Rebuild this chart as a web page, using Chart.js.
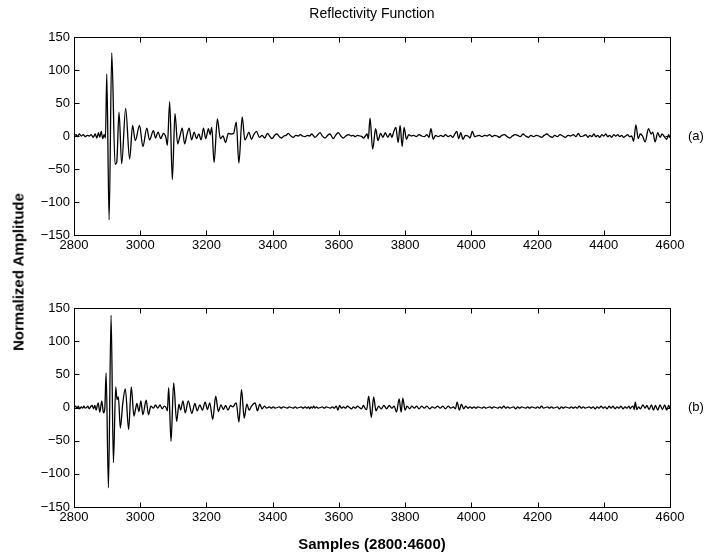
<!DOCTYPE html>
<html>
<head>
<meta charset="utf-8">
<script src="https://cdn.jsdelivr.net/npm/chart.js@4.4.0/dist/chart.umd.min.js"></script>
<style>
  html, body { margin: 0; padding: 0; background: #fff; }
  #wrap { position: relative; width: 704px; height: 558px; }
  #topChart { position: absolute; left: 0; top: 0; }
  #botChart { position: absolute; left: 0; top: 275px; }
  #ylab {
    position: absolute; left: 18px; top: 272px;
    transform: translate(-50%, -50%) rotate(-90deg);
    font: bold 15px "Liberation Sans", Arial, sans-serif;
    white-space: nowrap; color: #000;
  }
</style>
</head>
<body>
<div id="wrap">
  <canvas id="topChart" width="704" height="275"></canvas>
  <canvas id="botChart" width="704" height="283"></canvas>
  <div id="ylab">Normalized Amplitude</div>
</div>
<script>
// tick values
const xTicks = [2800, 3000, 3200, 3400, 3600, 3800, 4000, 4200, 4400, 4600];
const yTicks = [-150, -100, -50, 0, 50, 100, 150];

// (a): [sample, amplitude]
const traceA = [
  [2800,0],[2806,2],[2811,-1],[2816,3],[2822,0],[2828,2],[2834,-1],[2840,1],[2846,0],[2852,2],
  [2858,-2],[2864,3],[2869,-3],[2874,5],[2878,-2],[2882,7],[2887,-4],[2891,2],[2895,-3],
  [2899,94],[2906,-127],[2914,126],[2924,-43],[2929,-40],[2936,36],[2944,-42],[2956,42],[2968,-35],
  [2977,16],[2985,-7],[2998,16],[3008,-16],[3020,12],[3028,-6],[3040,8],[3046,-3],[3054,6],[3062,-4],
  [3070,4],[3078,-3],[3082,-14],[3089,52],[3097,-66],[3105,34],[3113,-12],[3120,0],[3127,12],[3134,-12],
  [3141,2],[3148,12],[3155,-6],[3163,6],[3170,-4],[3177,3],[3184,-6],[3191,12],[3198,-4],[3206,11],
  [3211,2],[3216,13],[3223,-40],[3233,26],[3242,-4],[3250,0],[3258,-10],[3266,4],[3274,3],[3282,4],
  [3290,21],[3298,-41],[3308,29],[3316,-6],[3322,-1],[3328,6],[3336,-5],[3343,2],
  [3351,7],[3360,-2],[3368,1],[3376,-3],[3384,4],[3392,-1],[3398,-4],[3406,1],[3413,3],[3420,-1],
  [3427,-3],[3434,0],[3441,1],[3447,4],[3455,0],[3462,-2],[3470,1],[3477,0],[3483,2],[3490,0],
  [3498,-1],[3505,1],[3511,0],[3518,3],[3528,-2],[3535,1],[3543,5],[3550,0],[3558,-3],[3566,1],
  [3573,3],[3583,-4],[3590,1],[3598,5],[3606,0],[3613,-3],[3621,0],[3629,2],[3637,0],[3643,1],
  [3649,-1],[3656,1],[3664,0],[3670,-1],[3674,-3],[3680,0],[3685,3],[3689,-4],
  [3694,27],[3702,-20],[3711,11],[3718,-7],[3726,4],[3733,-2],[3740,5],[3748,-2],[3755,4],[3760,-2],
  [3766,7],[3772,13],[3779,-10],[3785,16],[3791,-16],[3797,13],[3804,-5],[3811,2],[3818,0],[3826,1],
  [3834,-1],[3842,2],[3850,0],[3858,-1],[3866,2],[3872,-2],[3878,11],[3885,-5],[3892,1],[3900,-1],
  [3908,1],[3915,-1],[3922,2],[3930,-1],[3937,1],[3944,-2],[3950,3],[3956,7],[3962,-4],[3968,5],
  [3975,-5],[3982,1],[3990,0],[3996,-3],[4003,7],[4010,-1],[4016,0],[4024,1],[4032,-1],[4040,1],
  [4048,0],[4055,2],[4063,-1],[4070,1],[4078,0],[4085,-2],[4092,1],[4100,2],[4108,-1],[4116,-3],
  [4124,0],[4132,2],[4140,1],[4148,-1],[4156,3],[4164,0],[4172,-2],[4180,1],[4188,-1],[4196,1],
  [4204,0],[4212,-2],[4220,1],[4228,3],[4236,0],[4244,-2],[4252,1],[4260,-1],[4268,2],[4276,0],
  [4284,-2],[4292,1],[4300,0],[4308,2],[4316,-1],[4323,4],[4330,-1],[4338,0],[4346,2],[4352,-2],
  [4358,1],[4364,-1],[4370,3],[4376,-1],[4382,1],[4388,-2],[4394,2],[4400,0],[4406,3],[4412,-1],
  [4418,1],[4424,-2],[4430,2],[4436,0],[4442,2],[4448,-1],[4454,1],[4460,-2],[4466,0],[4472,2],
  [4478,-1],[4484,0],[4490,-8],[4497,17],[4504,-4],[4510,3],[4517,0],[4525,-9],[4535,11],[4543,3],
  [4548,6],[4555,-9],[4563,5],[4570,-2],[4576,3],[4583,-1],[4590,-5],[4596,2],[4600,-3]
];

// (b): [sample, amplitude]
const traceB = [
  [2800,0],[2805,2],[2809,-1],[2813,2],[2817,-2],[2822,1],[2826,-1],[2830,2],[2834,-1],[2838,0],
  [2842,2],[2846,-2],[2850,1],[2855,3],[2859,-2],[2863,3],[2867,-4],[2870,2],[2873,7],[2878,-7],
  [2884,10],[2889,-8],[2893,-2],
  [2897,52],[2904,-121],[2912,139],[2919,-83],[2926,31],[2930,12],[2934,16],[2940,-31],[2947,5],[2955,28],
  [2965,-33],[2973,31],[2981,-13],[2986,-2],[2990,6],[2996,-6],[3002,10],[3008,-11],[3018,11],[3025,-11],
  [3032,2],[3040,-1],[3046,4],[3053,-1],[3060,4],[3066,-2],[3073,2],[3078,0],[3082,-5],[3086,30],
  [3093,-51],[3101,37],[3110,-21],[3117,5],[3122,-4],[3129,10],[3136,-8],[3145,10],[3156,-9],[3165,6],
  [3172,-5],[3180,4],[3188,-4],[3196,8],[3203,-3],[3210,7],[3219,-18],[3228,17],[3236,-6],[3244,4],
  [3251,-3],[3258,3],[3265,-4],[3273,3],[3280,1],[3286,5],[3290,7],[3298,-22],[3306,27],[3314,-16],
  [3322,5],[3329,-4],[3336,2],[3347,7],[3354,-5],[3361,5],[3368,-2],[3375,2],[3382,-1],
  [3390,1],[3396,-1],[3402,1],[3408,-1],[3414,0],[3420,1],[3426,-1],[3432,1],[3438,0],[3444,-1],
  [3450,1],[3456,0],[3462,-1],[3468,1],[3474,-1],[3480,0],[3486,1],[3492,-1],[3498,1],[3504,-1],
  [3508,1],[3512,-2],[3516,1],[3520,-1],[3524,2],[3528,-1],[3532,1],[3538,-1],[3544,0],[3550,1],
  [3556,-1],[3562,1],[3568,0],[3574,-1],[3580,1],[3586,-1],[3592,2],[3597,-4],[3602,3],[3608,-1],
  [3614,1],[3620,-1],[3626,2],[3632,0],[3638,-2],[3644,1],[3650,-1],[3656,2],[3662,0],[3668,-2],
  [3674,3],[3680,-2],[3684,-3],
  [3690,17],[3698,-15],[3705,16],[3712,-5],[3720,2],[3728,-2],[3736,3],[3744,-2],[3752,3],[3760,-1],
  [3767,2],[3774,-7],[3782,13],[3788,-7],[3793,14],[3800,-4],[3806,2],[3814,-2],[3820,2],[3828,-1],
  [3835,2],[3842,-2],[3850,2],[3858,-1],[3866,2],[3874,-2],[3882,1],[3890,-1],[3898,2],[3906,-1],
  [3914,2],[3922,-2],[3930,2],[3938,-1],[3946,1],[3952,-2],[3957,8],[3964,-4],[3970,5],[3977,-2],
  [3983,2],[3990,-1],[3996,1],[4002,-1],
  [4008,1],[4014,-1],[4020,1],[4026,0],[4032,-1],[4038,1],[4044,-1],[4050,0],[4056,1],[4062,-1],
  [4068,1],[4074,0],[4080,-1],[4086,1],[4092,-1],[4098,2],[4104,-1],[4110,1],[4116,-1],[4122,0],
  [4128,1],[4134,-2],[4140,1],[4146,-1],[4152,1],[4158,0],[4164,-1],[4170,1],[4176,-1],[4182,1],
  [4188,0],[4194,-1],[4200,1],[4206,-1],[4212,2],[4218,-1],[4224,0],[4230,1],[4236,-1],[4242,1],
  [4248,-1],[4254,0],[4260,1],[4266,-2],[4272,1],[4278,-1],[4284,1],[4290,0],[4296,-1],[4302,1],
  [4308,-1],[4314,1],[4320,-1],[4326,2],[4332,-1],[4338,1],[4344,-1],[4350,0],[4356,1],[4362,-1],
  [4368,1],[4374,-2],[4380,1],[4386,-1],[4392,2],[4398,-1],[4404,1],[4410,-2],[4416,2],[4422,-1],
  [4428,2],[4434,-2],[4440,1],[4446,-1],[4452,2],[4458,-2],[4464,1],[4470,-1],[4476,2],[4480,-2],
  [4484,1],[4488,2],[4492,-3],[4495,8],[4500,-3],[4505,1],[4511,-2],[4518,4],[4525,-1],[4530,3],
  [4537,-3],[4544,4],[4550,-4],[4556,3],[4563,-4],[4570,4],[4577,-3],[4584,4],[4590,-4],[4596,3],
  [4600,-2]
];

const FONT = '"Liberation Sans", Arial, Helvetica, sans-serif';
Chart.defaults.font.family = FONT;
Chart.defaults.color = '#000';

const fmt = v => (v < 0 ? '\u2212' + Math.abs(v) : String(v));

// matlab style box with inward ticks on all four sides, plus the (a)/(b) tag
const boxPlugin = {
  id: 'box',
  afterDraw(chart, args, opts) {
    const { ctx, chartArea: a, scales: { x, y } } = chart;
    const L = Math.round(a.left) + 0.5, R = Math.round(a.right) + 0.5;
    const T = Math.round(a.top) + 0.5, B = Math.round(a.bottom) + 0.5;
    ctx.save();
    ctx.strokeStyle = '#000';
    ctx.lineWidth = 1;
    ctx.strokeRect(L, T, R - L, B - T);
    ctx.beginPath();
    xTicks.forEach(v => {
      const px = Math.round(x.getPixelForValue(v)) + 0.5;
      ctx.moveTo(px, B); ctx.lineTo(px, B - 5);
      ctx.moveTo(px, T); ctx.lineTo(px, T + 5);
    });
    yTicks.forEach(v => {
      const py = Math.round(y.getPixelForValue(v)) + 0.5;
      ctx.moveTo(L, py); ctx.lineTo(L + 5, py);
      ctx.moveTo(R, py); ctx.lineTo(R - 5, py);
    });
    ctx.stroke();
    ctx.font = '13px ' + FONT;
    ctx.fillStyle = '#000';
    ctx.textAlign = 'left';
    ctx.textBaseline = 'middle';
    ctx.fillText(opts.tag, a.right + 18, y.getPixelForValue(0));
    ctx.restore();
  }
};

function makeChart(id, trace, tag, xHeight, padTop, title, xTitle) {
  return new Chart(document.getElementById(id), {
    type: 'line',
    data: {
      datasets: [{
        data: trace.map(p => ({ x: p[0], y: p[1] })),
        borderColor: '#000',
        borderWidth: 1.3,
        pointRadius: 0,
        tension: 0.4,
        cubicInterpolationMode: 'monotone',
        fill: false
      }]
    },
    options: {
      responsive: false,
      animation: false,
      events: [],
      layout: { padding: { left: 0, right: 34, top: padTop, bottom: 0 } },
      scales: {
        x: {
          type: 'linear',
          min: 2800,
          max: 4600,
          afterBuildTicks: s => { s.ticks = xTicks.map(v => ({ value: v })); },
          afterFit: s => { s.height = xHeight; },
          grid: { display: false, drawTicks: false },
          border: { display: false },
          ticks: { padding: 3, maxRotation: 0, autoSkip: false, font: { size: 13 }, callback: v => fmt(v) },
          title: xTitle
            ? { display: true, text: xTitle, font: { size: 15, weight: 'bold' }, padding: { top: 0, bottom: 4 } }
            : { display: false }
        },
        y: {
          min: -150,
          max: 150,
          afterBuildTicks: s => { s.ticks = yTicks.map(v => ({ value: v })); },
          afterFit: s => { s.width = 74; },
          grid: { display: false, drawTicks: false },
          border: { display: false },
          ticks: { padding: 4, font: { size: 13 }, callback: v => fmt(v) }
        }
      },
      plugins: {
        legend: { display: false },
        tooltip: { enabled: false },
        title: title
          ? { display: true, text: title, fullSize: false, font: { size: 14, weight: 'normal' }, padding: { top: 6, bottom: 14.2 } }
          : { display: false },
        box: { tag: tag }
      }
    },
    plugins: [boxPlugin]
  });
}

makeChart('topChart', traceA, '(a)', 40, 0, 'Reflectivity Function', null);
makeChart('botChart', traceB, '(b)', 51, 33, null, 'Samples (2800:4600)');
</script>
</body>
</html>
